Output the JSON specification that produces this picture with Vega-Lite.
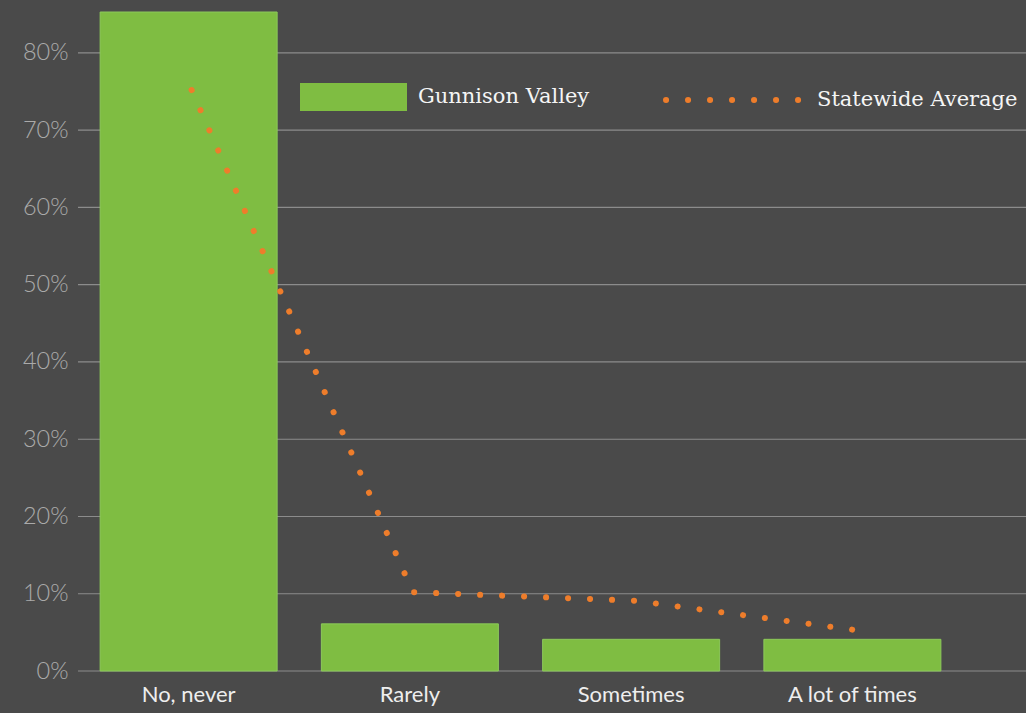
{
  "$schema": "https://vega.github.io/schema/vega-lite/v6.json",
  "autosize": "none",
  "width": 948,
  "height": 659,
  "padding": {"left": 78, "top": 12, "right": 0, "bottom": 42},
  "background": "#4a4a4a",
  "config": {
    "view": {"stroke": null},
    "axis": {"labelFont": "Lato", "ticks": false, "domain": false}
  },
  "data": {
    "values": [
      {"category": "No, never", "gunnison": 85.3, "statewide": 75.2},
      {"category": "Rarely", "gunnison": 6.1, "statewide": 10.2},
      {"category": "Sometimes", "gunnison": 4.1, "statewide": 9.1},
      {"category": "A lot of times", "gunnison": 4.1, "statewide": 5.3}
    ]
  },
  "layer": [
    {
      "data": {"values": [{"v": 0}, {"v": 10}, {"v": 20}, {"v": 30}, {"v": 40}, {"v": 50}, {"v": 60}, {"v": 70}, {"v": 80}]},
      "mark": {"type": "rule", "color": "#8c8c8c", "strokeWidth": 1.2},
      "encoding": {
        "y": {"field": "v", "type": "quantitative"}
      }
    },
    {
      "mark": {"type": "bar", "stroke": "#8cc95a", "strokeWidth": 1},
      "encoding": {
        "x": {
          "field": "category",
          "type": "nominal",
          "sort": null,
          "scale": {"range": [0, 885], "paddingInner": 0.2, "paddingOuter": 0.1},
          "axis": {
            "title": null,
            "labelAngle": 0,
            "labelFontSize": 22,
            "labelColor": "#eeeeee",
            "labelPadding": 13,
            "grid": false
          }
        },
        "y": {
          "field": "gunnison",
          "type": "quantitative",
          "scale": {"domain": [0, 85.3], "nice": false},
          "axis": {
            "title": null,
            "values": [0, 10, 20, 30, 40, 50, 60, 70, 80],
            "labelExpr": "datum.value + '%'",
            "labelFontSize": 23.5,
            "labelFontWeight": 300,
            "labelColor": "#aaaaaa",
            "labelPadding": 10,
            "grid": false
          }
        },
        "fill": {
          "datum": "Gunnison Valley",
          "scale": {"range": ["#7fbd42"]},
          "legend": {
            "title": null,
            "orient": "none",
            "legendX": 222,
            "legendY": 31.5,
            "padding": 0,
            "symbolType": "M-1,-0.2617H1V0.2617H-1Z",
            "symbolSize": 11449,
            "symbolStrokeWidth": 0,
            "symbolOpacity": 1,
            "labelFont": "DejaVu Serif",
            "labelFontSize": 21,
            "labelLimit": 0,
            "labelColor": "#f5f5f5",
            "labelOffset": 11
          }
        }
      }
    },
    {
      "mark": {"type": "line", "strokeWidth": 6, "strokeDash": [0.1, 21.9], "strokeCap": "round", "xOffset": 3},
      "encoding": {
        "x": {"field": "category", "type": "nominal", "sort": null},
        "y": {"field": "statewide", "type": "quantitative"},
        "stroke": {
          "datum": "Statewide Average",
          "scale": {"range": ["#ee7d2b"]},
          "legend": {
            "title": null,
            "orient": "none",
            "legendX": 585,
            "legendY": 18.5,
            "padding": 0,
            "symbolType": "stroke",
            "symbolSize": 17689,
            "symbolStrokeWidth": 6,
            "symbolDash": [0.1, 21.9],
            "symbolOpacity": 1,
            "labelFont": "DejaVu Serif",
            "labelFontSize": 21,
            "labelLimit": 0,
            "labelColor": "#f5f5f5",
            "labelOffset": 15,
            "encode": {"symbols": {"update": {"strokeCap": {"value": "round"}}}}
          }
        }
      }
    }
  ]
}
